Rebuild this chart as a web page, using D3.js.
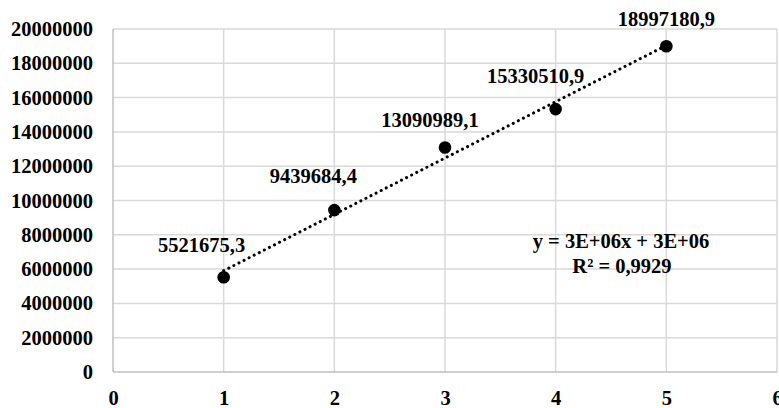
<!DOCTYPE html>
<html>
<head>
<meta charset="utf-8">
<script src="https://cdn.jsdelivr.net/npm/d3@7"></script>
<style>
  html, body { margin: 0; padding: 0; background: #fff; }
  svg { display: block; }
</style>
</head>
<body>
<svg id="chart" width="779" height="408"></svg>
<script>
// Series: values plotted against period index
const periods = [1, 2, 3, 4, 5];
const values = [5521675.3, 9439684.4, 13090989.1, 15330510.9, 18997180.9];
const valueLabels = ["5521675,3", "9439684,4", "13090989,1", "15330510,9", "18997180,9"];
const xTicks = [0, 1, 2, 3, 4, 5, 6];
const yTicks = [0, 2000000, 4000000, 6000000, 8000000, 10000000, 12000000, 14000000, 16000000, 18000000, 20000000];
const equationText = "y = 3E+06x + 3E+06";
const rSquaredText = "R² = 0,9929";

// Offsets of the value labels relative to their points (px)
const labelOffsets = [[-22, -25], [-21, -27], [-15, -20], [-20, -26], [0, -20]];

const FONT = "'Liberation Serif', 'Times New Roman', serif";
const FONT_SIZE = 20.5;
const plot = { left: 113, right: 777, top: 29, bottom: 372 };

const svg = d3.select("#chart");
const x = d3.scaleLinear().domain([0, 6]).range([plot.left, plot.right]);
const y = d3.scaleLinear().domain([0, 20000000]).range([plot.bottom, plot.top]);

function styleText(sel) {
  return sel.attr("font-family", FONT).attr("font-weight", "bold")
    .attr("font-size", FONT_SIZE).attr("fill", "#000");
}

// Gridlines
const grid = svg.append("g");
grid.selectAll("line.h").data(yTicks.filter(d => d > 0)).join("line")
  .attr("x1", plot.left).attr("x2", plot.right)
  .attr("y1", d => y(d)).attr("y2", d => y(d))
  .attr("stroke", "#d9d9d9").attr("stroke-width", 1.5);
grid.selectAll("line.v").data(xTicks.filter(d => d > 0)).join("line")
  .attr("x1", d => x(d)).attr("x2", d => x(d))
  .attr("y1", plot.top).attr("y2", plot.bottom)
  .attr("stroke", "#d9d9d9").attr("stroke-width", 1.5);

// Axis lines
svg.append("line").attr("x1", plot.left).attr("x2", plot.left)
  .attr("y1", plot.top).attr("y2", plot.bottom)
  .attr("stroke", "#bfbfbf").attr("stroke-width", 1.5);
svg.append("line").attr("x1", plot.left).attr("x2", plot.right)
  .attr("y1", plot.bottom).attr("y2", plot.bottom)
  .attr("stroke", "#bfbfbf").attr("stroke-width", 1.5);

// Axis tick labels
const yAxis = d3.axisLeft(y).tickValues(yTicks).tickFormat(d3.format("d")).tickSize(0).tickPadding(20);
const gy = svg.append("g").attr("transform", `translate(${plot.left},0)`).call(yAxis);
gy.select(".domain").remove();
gy.attr("font-family", FONT).attr("font-size", FONT_SIZE);
styleText(gy.selectAll("text"));

const xAxis = d3.axisBottom(x).tickValues(xTicks).tickFormat(d3.format("d")).tickSize(0).tickPadding(18);
const gx = svg.append("g").attr("transform", `translate(0,${plot.bottom})`).call(xAxis);
gx.select(".domain").remove();
gx.attr("font-family", FONT).attr("font-size", FONT_SIZE);
styleText(gx.selectAll("text"));

// Linear trendline (least squares)
const mx = d3.mean(periods), my = d3.mean(values);
const slope = d3.sum(periods, (p, i) => (p - mx) * (values[i] - my)) / d3.sum(periods, p => (p - mx) ** 2);
const intercept = my - slope * mx;
const trendX = [d3.min(periods), d3.max(periods)];
svg.append("path")
  .attr("d", d3.line().x(d => x(d)).y(d => y(slope * d + intercept))(trendX))
  .attr("fill", "none").attr("stroke", "#000").attr("stroke-width", 3)
  .attr("stroke-linecap", "round").attr("stroke-dasharray", "0.1,5.6");

// Points
svg.selectAll("circle.pt").data(periods).join("circle")
  .attr("cx", d => x(d)).attr("cy", (d, i) => y(values[i])).attr("r", 6.3)
  .attr("fill", "#000");

// Value labels
styleText(svg.selectAll("text.val").data(periods).join("text")
  .attr("x", (d, i) => x(d) + labelOffsets[i][0])
  .attr("y", (d, i) => y(values[i]) + labelOffsets[i][1])
  .attr("text-anchor", "middle")
  .text((d, i) => valueLabels[i]));

// Equation and R²
styleText(svg.append("text").attr("x", 621).attr("y", 248).attr("text-anchor", "middle").text(equationText));
styleText(svg.append("text").attr("x", 622).attr("y", 273).attr("text-anchor", "middle").text(rSquaredText));
</script>
</body>
</html>
